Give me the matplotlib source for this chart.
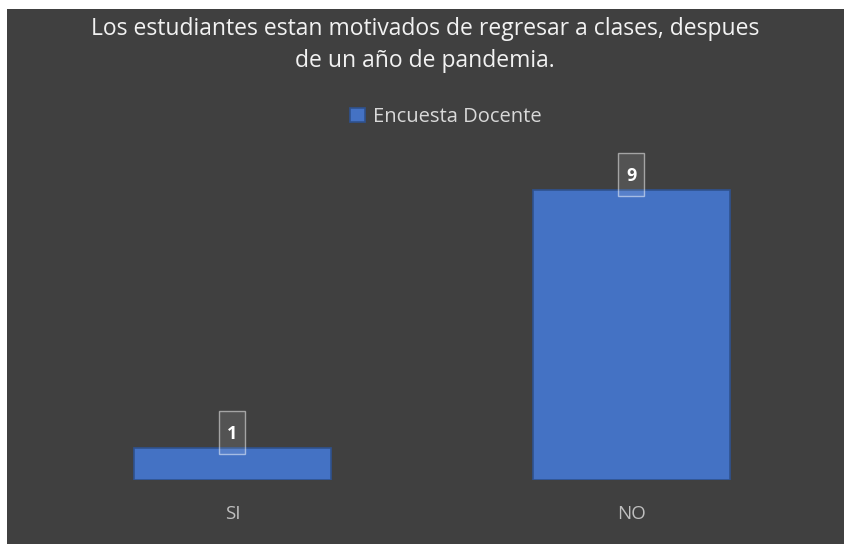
import matplotlib
matplotlib.use("Agg")
import matplotlib.pyplot as plt
from matplotlib.patches import Rectangle
from matplotlib.transforms import IdentityTransform, ScaledTranslation

categories = ["SI", "NO"]
values = [1, 9]
series_name = "Encuesta Docente"
title = "Los estudiantes estan motivados de regresar a clases, despues\nde un año de pandemia."

W, H = 845, 544
fig = plt.figure(figsize=(W / 100, H / 100), dpi=100, facecolor="white")
bg = "#404040"
fig.patches.append(Rectangle((7 / W, 0), 1 - 7 / W, 1 - 9 / H, transform=fig.transFigure,
                             facecolor=bg, edgecolor="none", zorder=-10))

ax = fig.add_axes([33 / W, (H - 480) / H, (831 - 33) / W, (480 - 158) / H])
ax.set_facecolor("none")
x = list(range(len(categories)))
bars = ax.bar(x, values, width=0.494, color="#4472C4", edgecolor="#2F528F", linewidth=1.2,
              label=series_name)
ax.set_xlim(-0.5, 1.5)
ax.set_ylim(0, 10)
ax.set_xticks(x)
ax.set_xticklabels(categories, color="#bfbfbf", fontsize=13.5, family="Open Sans")
ax.tick_params(axis="x", length=0, pad=18)
ax.set_yticks([])
for s in ax.spines.values():
    s.set_visible(False)

for xi, v in zip(x, values):
    trans = IdentityTransform() + ScaledTranslation(xi, v, ax.transData)
    ax.add_patch(Rectangle((-13, -6), 26, 43, transform=trans, facecolor=(1, 1, 1, 0.1),
                           edgecolor=(1, 1, 1, 0.5), linewidth=1.0, clip_on=False, zorder=3))
    ax.text(0, 14, str(v), transform=trans, ha="center", va="center", color="white",
            fontsize=13, fontweight="bold", family="Open Sans", zorder=4)

fig.text(425 / W, 1 - 45 / H, title, ha="center", va="center", color="#f2f2f2",
         fontsize=16.5, family="Open Sans", linespacing=1.45)

leg = fig.legend(handles=[bars], labels=[series_name], loc="center",
                 bbox_to_anchor=(446 / W, 1 - 117 / H), frameon=False,
                 prop={"family": "Open Sans", "size": 14.5}, handlelength=0.75,
                 handleheight=0.75, handletextpad=0.4)
for t in leg.get_texts():
    t.set_color("#d9d9d9")

fig.savefig("out.png", dpi=100, facecolor="white")
